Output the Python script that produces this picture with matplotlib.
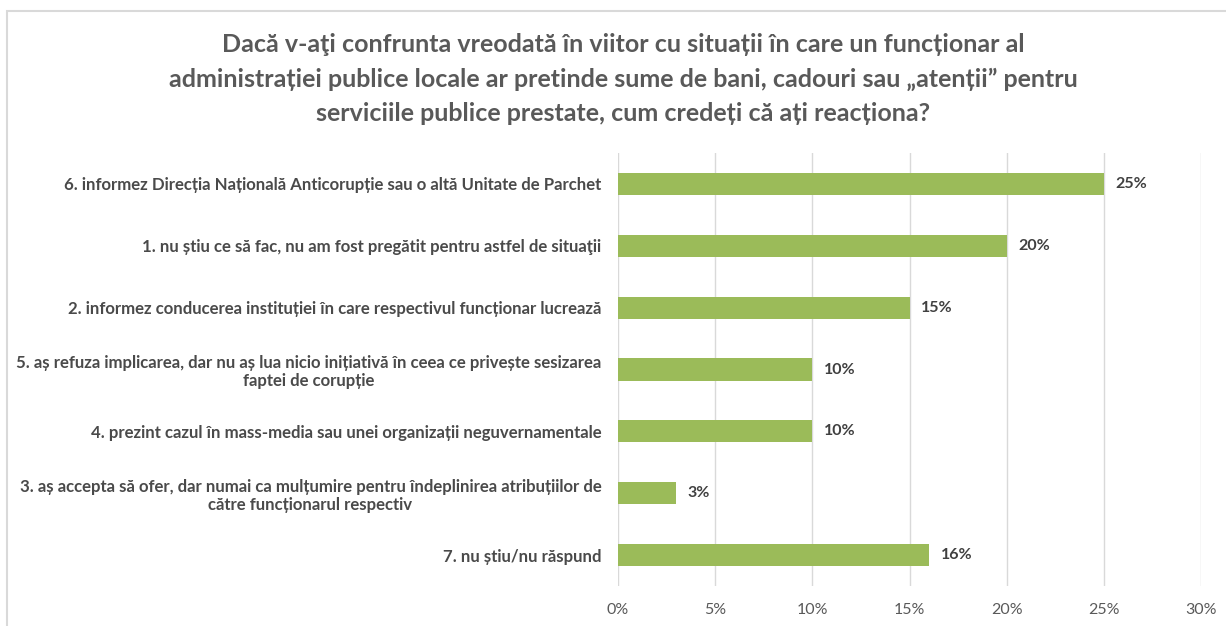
import matplotlib.pyplot as plt
from matplotlib.patches import Rectangle

title = ("Dacă v-aţi confrunta vreodată în viitor cu situații în care un funcționar al\n"
         "administrației publice locale ar pretinde sume de bani, cadouri sau „atenții” pentru\n"
         "serviciile publice prestate, cum credeți că ați reacționa?")

categories = [
    "6. informez Direcția Națională Anticorupție sau o altă Unitate de Parchet",
    "1. nu știu ce să fac, nu am fost pregătit pentru astfel de situaţii",
    "2. informez conducerea instituției în care respectivul funcționar lucrează",
    "5. aș refuza implicarea, dar nu aș lua nicio inițiativă în ceea ce privește sesizarea\nfaptei de corupție",
    "4. prezint cazul în mass-media sau unei organizații neguvernamentale",
    "3. aș accepta să ofer, dar numai ca mulțumire pentru îndeplinirea atribuțiilor de\ncătre funcționarul respectiv",
    "7. nu știu/nu răspund",
]
values = [25, 20, 15, 10, 10, 3, 16]
xticks = [0, 5, 10, 15, 20, 25, 30]

plt.rcParams['font.family'] = ['Lato', 'DejaVu Sans']
text_col = '#595959'
bar_col = '#9BBB59'

fig = plt.figure(figsize=(12.26, 6.26), dpi=100)
# chart frame, only the top and left edges fall inside the picture
fig.patches.append(Rectangle((7 / 1226, -0.1), 1.1, 1.1 - 11 / 626, transform=fig.transFigure,
                             fill=False, edgecolor='#D9D9D9', linewidth=1.5))

ax = fig.add_axes([618 / 1226, 40 / 626, 583 / 1226, 433 / 626])
y = list(range(len(categories)))
ax.barh(y, values, height=0.36, color=bar_col, zorder=3)
for yi, v in zip(y, values):
    ax.text(v + 0.6, yi, f"{v}%", va='center', ha='left', fontsize=11.5,
            fontweight='bold', color='#404040')

ax.set_ylim(len(categories) - 0.5, -0.5)
ax.set_xlim(0, 30)
ax.set_xticks(xticks)
ax.set_xticklabels([f"{t}%" for t in xticks], fontsize=11.5, color=text_col)
ax.set_yticks(y)
ax.set_yticklabels(categories, fontsize=12.1, fontweight='bold', color='#4a4a4a',
                   multialignment='center', linespacing=1.15)
ax.tick_params(axis='both', length=0)
ax.tick_params(axis='y', pad=12)
ax.tick_params(axis='x', pad=12)
ax.grid(axis='x', color='#D9D9D9', linewidth=1, zorder=0)
for s in ax.spines.values():
    s.set_visible(False)

fig.text(623 / 1226, 1 - 79 / 626, title, ha='center', va='center', fontsize=18,
         fontweight='bold', color=text_col, linespacing=1.6)

fig.savefig('out.png', dpi=100)
